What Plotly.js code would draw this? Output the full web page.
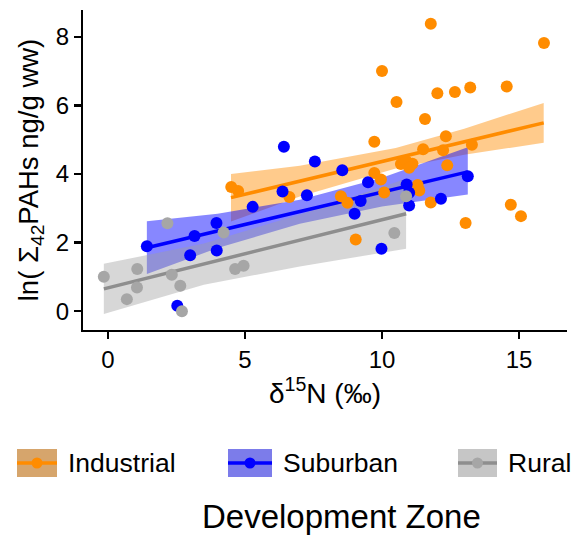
<!DOCTYPE html>
<html>
<head>
<meta charset="utf-8">
<script src="https://cdn.plot.ly/plotly-3.0.1.min.js"></script>
<style>html,body{margin:0;padding:0;background:#fff;}#chart{width:588px;height:537px;}</style>
</head>
<body>
<div id="chart"></div>
<script>
// ---- Data ----
const groups = ["Industrial", "Suburban", "Rural"];

const industrialX = [4.5, 4.75, 6.62, 8.5, 8.74, 9.04, 9.72, 9.72, 9.96, 10.08, 10.0, 10.53, 10.69, 10.89, 11.11, 10.99, 11.3, 11.36, 11.5, 11.57, 11.78, 11.78, 12.02, 12.23, 12.33, 12.38, 12.66, 13.05, 13.22, 13.28, 14.55, 14.7, 15.07, 15.91];
const industrialY = [3.62, 3.5, 3.33, 3.35, 3.16, 2.09, 4.94, 4.03, 3.84, 3.46, 7.0, 6.1, 4.29, 4.37, 4.3, 4.18, 3.68, 3.52, 4.72, 5.6, 8.38, 3.17, 6.35, 4.69, 5.1, 4.25, 6.39, 2.57, 6.52, 4.85, 6.55, 3.1, 2.77, 7.82];

const suburbanX = [1.42, 2.53, 3.0, 3.16, 3.96, 3.97, 5.28, 6.37, 6.42, 7.26, 7.55, 8.55, 9.0, 9.22, 9.49, 9.98, 10.9, 10.99, 10.99, 12.15, 13.13];
const suburbanY = [1.89, 0.16, 1.63, 2.19, 2.57, 1.77, 3.04, 3.49, 4.79, 3.38, 4.36, 4.11, 2.84, 3.21, 3.76, 1.82, 3.69, 3.45, 3.08, 3.28, 3.93];

const ruralX = [-0.15, 0.69, 1.07, 1.06, 2.17, 2.33, 2.64, 2.7, 4.22, 4.64, 4.95, 10.45, 10.88];
const ruralY = [1.0, 0.35, 1.23, 0.69, 2.56, 1.06, 0.74, 0.0, 2.29, 1.23, 1.32, 2.28, 3.35];

// fitted lines (end points)
const industrialFitX = [4.49, 15.9];
const industrialFitY = [3.31, 5.49];
const suburbanFitX = [1.42, 13.13];
const suburbanFitY = [1.85, 4.06];
const ruralFitX = [-0.15, 10.88];
const ruralFitY = [0.65, 2.84];

// confidence bands
const industrialBandX = [4.49, 7, 10.5, 13, 15.9];
const industrialBandHi = [4.0, 4.24, 4.76, 5.32, 6.07];
const industrialBandLo = [2.61, 3.34, 4.16, 4.56, 4.91];
const suburbanBandX = [1.42, 4, 7, 10, 13.13];
const suburbanBandHi = [2.62, 2.84, 3.25, 3.89, 4.78];
const suburbanBandLo = [1.08, 1.84, 2.55, 3.05, 3.4];
const ruralBandX = [-0.15, 3.5, 7, 10.88];
const ruralBandHi = [1.38, 1.97, 2.82, 3.86];
const ruralBandLo = [-0.08, 0.77, 1.3, 1.82];

const xTicks = [0, 5, 10, 15];
const yTicks = [0, 2, 4, 6, 8];

// ---- Styles ----
const FONT = "Liberation Sans, Arial, sans-serif";
const colors = { Industrial: "#FF8C00", Suburban: "#0000FF", Rural: "#A6A6A6" };
const lineColors = { Industrial: "#FF8C00", Suburban: "#0000FF", Rural: "#8E8E8E" };
const bandColors = { Industrial: "rgba(255,140,0,0.45)", Suburban: "rgba(0,0,255,0.47)", Rural: "rgba(160,160,160,0.42)" };
const keyColors = { Industrial: "#D6A56C", Suburban: "#7C7CEA", Rural: "#C6C6C6" };

const series = {
  Industrial: { x: industrialX, y: industrialY, fx: industrialFitX, fy: industrialFitY, bx: industrialBandX, hi: industrialBandHi, lo: industrialBandLo },
  Suburban: { x: suburbanX, y: suburbanY, fx: suburbanFitX, fy: suburbanFitY, bx: suburbanBandX, hi: suburbanBandHi, lo: suburbanBandLo },
  Rural: { x: ruralX, y: ruralY, fx: ruralFitX, fy: ruralFitY, bx: ruralBandX, hi: ruralBandHi, lo: ruralBandLo }
};

const traces = [];
groups.forEach(g => {
  const s = series[g];
  traces.push({
    type: "scatter", mode: "lines", showlegend: false, hoverinfo: "skip",
    x: s.bx.concat(s.bx.slice().reverse()),
    y: s.hi.concat(s.lo.slice().reverse()),
    fill: "toself", fillcolor: bandColors[g], line: { width: 0, color: bandColors[g] }
  });
});
groups.forEach(g => {
  const s = series[g];
  traces.push({
    type: "scatter", mode: "lines", showlegend: false, hoverinfo: "skip",
    x: s.fx, y: s.fy, line: { color: lineColors[g], width: 3.5 }
  });
});
groups.forEach(g => {
  const s = series[g];
  traces.push({
    type: "scatter", mode: "markers", name: g, showlegend: false,
    x: s.x, y: s.y, marker: { color: colors[g], size: 12 }
  });
});

// plot area in pixels: x 83..567, y 10..330
const L = 83, R = 567, T = 10, B = 330;
const px = v => (v - L) / (R - L);
const py = v => (B - v) / (B - T);

// manual legend (key box + line + dot, label)
const legendKeys = [
  { g: "Industrial", x0: 17, x1: 57, tx: 66 },
  { g: "Suburban", x0: 228, x1: 272, tx: 281 },
  { g: "Rural", x0: 458, x1: 497, tx: 506 }
];
const legY = 463;
const shapes = [];
const annotations = [];
legendKeys.forEach(k => {
  shapes.push({ type: "rect", xref: "paper", yref: "paper", x0: px(k.x0), x1: px(k.x1), y0: py(legY + 14), y1: py(legY - 14), fillcolor: keyColors[k.g], line: { width: 0 }, layer: "above" });
  shapes.push({ type: "line", xref: "paper", yref: "paper", x0: px(k.x0), x1: px(k.x1), y0: py(legY), y1: py(legY), line: { color: lineColors[k.g], width: 3.5 }, layer: "above" });
  shapes.push({ type: "circle", xref: "paper", yref: "paper", xsizemode: "pixel", ysizemode: "pixel", xanchor: px((k.x0 + k.x1) / 2), yanchor: py(legY), x0: -5.5, x1: 5.5, y0: -5.5, y1: 5.5, fillcolor: colors[k.g], line: { width: 0 }, layer: "above" });
  annotations.push({ text: k.g, xref: "paper", yref: "paper", x: px(k.tx), y: py(legY), xanchor: "left", yanchor: "middle", showarrow: false, font: { family: FONT, size: 26.5, color: "#000" } });
});
annotations.push({ text: "Development Zone", xref: "paper", yref: "paper", x: px(341), y: py(516), xanchor: "center", yanchor: "middle", showarrow: false, font: { family: FONT, size: 33, color: "#000" } });

const layout = {
  width: 588, height: 537,
  margin: { l: L, r: 588 - R, t: T, b: 537 - B, pad: 0 },
  paper_bgcolor: "#fff", plot_bgcolor: "#fff",
  showlegend: false,
  font: { family: FONT, color: "#000" },
  xaxis: {
    range: [-0.91, 16.75], tickvals: xTicks, ticktext: xTicks.map(String),
    showgrid: false, zeroline: false, showline: true, linecolor: "#000", linewidth: 2,
    ticks: "outside", ticklen: 7, tickwidth: 2.5, tickcolor: "#000",
    tickfont: { family: FONT, size: 24, color: "#000" },
    title: { text: "δ<sup>15</sup>N (‰)", font: { family: FONT, size: 28, color: "#000" }, standoff: 10 }
  },
  yaxis: {
    range: [-0.55, 8.78], tickvals: yTicks, ticktext: yTicks.map(String),
    showgrid: false, zeroline: false, showline: true, linecolor: "#000", linewidth: 2,
    ticks: "outside", ticklen: 7, tickwidth: 2.5, tickcolor: "#000",
    tickfont: { family: FONT, size: 24, color: "#000" },
    title: { text: "ln( Σ<sub>42</sub>PAHs ng/g ww)", font: { family: FONT, size: 27.5, color: "#000" }, standoff: 9 }
  },
  shapes: shapes,
  annotations: annotations
};

Plotly.newPlot("chart", traces, layout, { displayModeBar: false, staticPlot: true });
</script>
</body>
</html>
